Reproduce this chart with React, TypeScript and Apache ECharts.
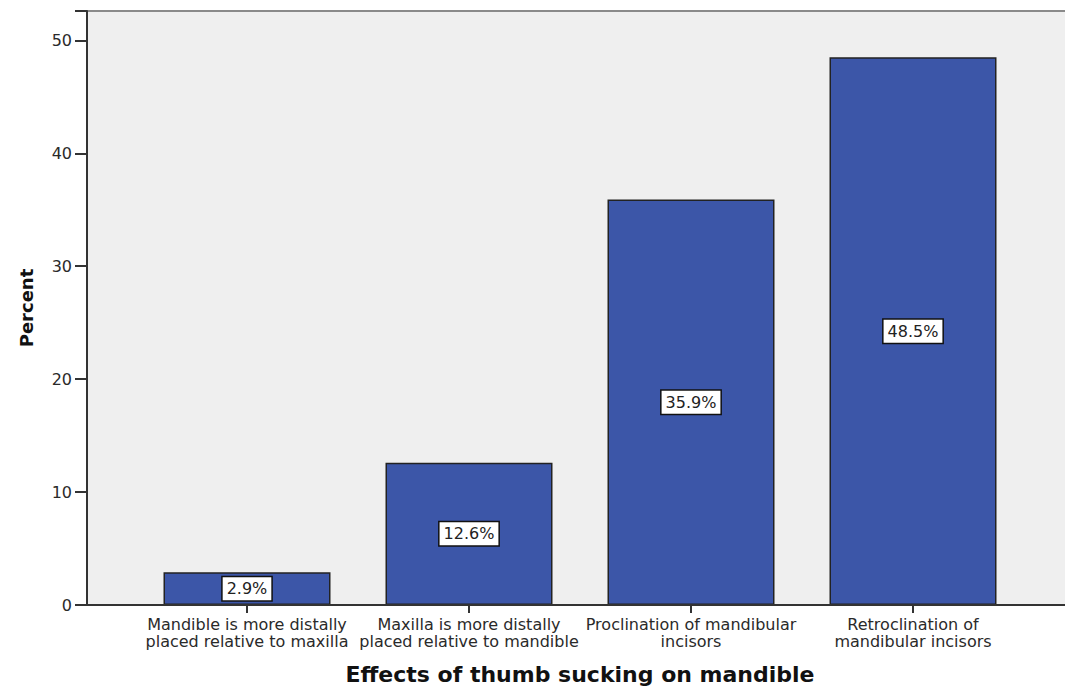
import React, { useEffect, useRef } from "react";
import * as echarts from "echarts";

const categories = [
  "Mandible is more distally\nplaced relative to maxilla",
  "Maxilla is more distally\nplaced relative to mandible",
  "Proclination of mandibular\nincisors",
  "Retroclination of\nmandibular incisors",
];
const percents = [2.9, 12.6, 35.9, 48.5];
const yTicks = [0, 10, 20, 30, 40, 50];

const W = 1065;
const H = 687;
const PLOT_LEFT = 87;
const PLOT_TOP = 11;
const PLOT_BOTTOM = 605;
const FONT = "DejaVu Sans, Verdana, sans-serif";

export default function App() {
  const ref = useRef<HTMLDivElement>(null);

  useEffect(() => {
    if (!ref.current) return;
    const chart = echarts.init(ref.current, null, { renderer: "svg" });
    chart.setOption({
      animation: false,
      backgroundColor: "#ffffff",
      textStyle: { fontFamily: FONT },
      graphic: [
        {
          type: "rect",
          z: -10,
          silent: true,
          shape: { x: PLOT_LEFT, y: PLOT_TOP, width: W - PLOT_LEFT, height: PLOT_BOTTOM - PLOT_TOP },
          style: { fill: "#efefef" },
        },
        {
          type: "line",
          z: -5,
          silent: true,
          shape: { x1: PLOT_LEFT, y1: PLOT_TOP, x2: W, y2: PLOT_TOP },
          style: { stroke: "#8a8a8a", lineWidth: 2 },
        },
        {
          type: "line",
          z: 10,
          silent: true,
          shape: { x1: PLOT_LEFT, y1: PLOT_BOTTOM, x2: W, y2: PLOT_BOTTOM },
          style: { stroke: "#333333", lineWidth: 2 },
        },
      ],
      grid: {
        left: 136,
        right: 41,
        top: PLOT_TOP,
        bottom: H - PLOT_BOTTOM,
        outerBoundsMode: "none",
      },
      xAxis: {
        type: "category",
        data: categories,
        axisLine: { show: false },
        axisTick: { show: true, alignWithLabel: true, length: 8, lineStyle: { color: "#333", width: 2 } },
        axisLabel: {
          color: "#2a2a2a",
          fontSize: 16,
          lineHeight: 17,
          margin: 11,
          interval: 0,
          fontFamily: FONT,
        },
        name: "Effects of thumb sucking on mandible",
        nameLocation: "middle",
        nameGap: 58,
        nameTextStyle: {
          color: "#111",
          fontSize: 22,
          fontWeight: "bold",
          fontFamily: FONT,
        },
      },
      yAxis: {
        type: "value",
        min: yTicks[0],
        max: 52.6,
        interval: 10,
        offset: 49,
        splitLine: { show: false },
        axisLine: { show: true, lineStyle: { color: "#333", width: 2 } },
        axisTick: { show: true, length: 12, lineStyle: { color: "#333", width: 2 } },
        axisLabel: {
          color: "#2a2a2a",
          fontSize: 16,
          margin: 15,
          fontFamily: FONT,
          formatter: (v: number) => (yTicks.includes(v) ? String(v) : ""),
        },
        name: "Percent",
        nameLocation: "middle",
        nameGap: 52,
        nameRotate: 90,
        nameTextStyle: { color: "#111", fontSize: 18, fontWeight: "bold", fontFamily: FONT },
      },
      series: [
        {
          type: "bar",
          data: percents,
          barWidth: 167,
          itemStyle: { color: "#3c56a8", borderColor: "#222", borderWidth: 1.5 },
          label: {
            show: true,
            position: "inside",
            formatter: (p: any) => `${p.value}%`,
            color: "#222",
            fontSize: 16,
            fontFamily: FONT,
            backgroundColor: "#ffffff",
            borderColor: "#111",
            borderWidth: 1.5,
            padding: [4, 4, 3, 4],
          },
        },
      ],
    });
    return () => chart.dispose();
  }, []);

  return (
    <div
      ref={ref}
      style={{ position: "fixed", left: 0, top: 0, width: W, height: H }}
    />
  );
}
